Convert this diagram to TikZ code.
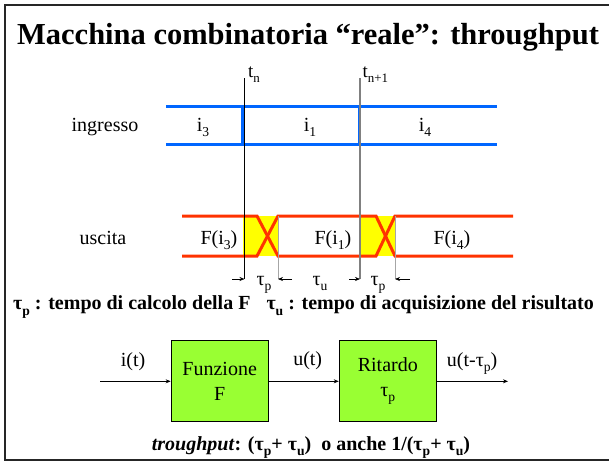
\documentclass[tikz,border=0pt]{standalone}
\usepackage{fontspec}
\usepackage{graphicx}
\setmainfont{Liberation Serif}
\usetikzlibrary{arrows.meta}
\definecolor{sigblue}{RGB}{0,102,255}
\definecolor{sigred}{RGB}{255,51,0}
\definecolor{sigyellow}{RGB}{255,255,0}
\definecolor{boxgreen}{RGB}{153,255,51}
\newcommand{\sbx}[1]{\raisebox{-0.28em}{\scalebox{0.68}{#1}}}
\begin{document}
\begin{tikzpicture}[x=1pt,y=-1pt,
  txt/.style={font=\fontsize{20}{24}\selectfont, inner sep=0pt, anchor=base},
  tlab/.style={font=\fontsize{19}{22}\selectfont, inner sep=0pt, anchor=base west},
  blueline/.style={draw=sigblue, line width=3pt},
  redline/.style={draw=sigred, line width=3pt},
  guide/.style={draw=gray!70, line width=0.5pt},
  dimarr/.style={-{Stealth[length=5pt,width=4pt]}, line width=0.6pt},
  arr/.style={-{Stealth[length=5pt,width=4pt]}, line width=0.7pt},
  blk/.style={draw=black, line width=0.8pt, fill=boxgreen, minimum width=97.3pt, minimum height=81pt, inner sep=0pt, align=center, font=\fontsize{20}{25}\selectfont},
  boldtxt/.style={font=\fontsize{20}{24}\selectfont\bfseries, inner sep=0pt}
]
\useasboundingbox (0,0) rectangle (609,461);
% frame
\draw[line width=2pt, black!85] (609,5) -- (4.5,5) -- (4.5,460) -- (609,460);
% title
\node[font=\fontsize{30.5}{36}\selectfont\bfseries, inner sep=0pt, anchor=base] (title) at (308,44) {Macchina combinatoria “reale”: throughput};

% input signal
\path[blueline] (166,106.5) -- (497,106.5);
\path[blueline] (166,144) -- (497,144);
\path[blueline] (242.5,106.5) -- (242.5,144);
\path[blueline] (359.5,106.5) -- (359.5,144);
\node[txt] (ing) at (105,131) {ingresso};
\node[txt] (i3) at (203,131) {i\sbx{3}};
\node[txt] (i1) at (310,131) {i\sbx{1}};
\node[txt] (i4) at (425,131) {i\sbx{4}};

% output signal
\fill[sigyellow] (243,216) rectangle (278,256);
\fill[sigyellow] (360.5,216) rectangle (395,256);
\path[redline] (182,216) -- (257,216) -- (278,256) -- (376,256) -- (395,216) -- (513,216);
\path[redline] (182,256) -- (257,256) -- (278,216) -- (376,216) -- (395,256) -- (513,256);
\node[txt] (usc) at (103,244) {uscita};
\node[txt] (f3) at (219,244) {F(i\sbx{3})};
\node[txt] (f1) at (333,244) {F(i\sbx{1})};
\node[txt] (f4) at (452,244) {F(i\sbx{4})};

% time markers
\coordinate (tnTop) at (244.5,78);
\coordinate (tnBot) at (244.5,279);
\coordinate (tmTop) at (360,78);
\coordinate (tmBot) at (360,279);
\coordinate (e1Top) at (278,216);
\coordinate (e1Bot) at (278,279);
\coordinate (e2Top) at (395,216);
\coordinate (e2Bot) at (395,279);
\draw[black, line width=1pt] (tnTop) -- (tnBot);
\draw[gray, line width=1.4pt] (tmTop) -- (tmBot);
\draw[guide] (e1Top) -- (e1Bot);
\draw[guide] (e2Top) -- (e2Bot);
\node[tlab] (tn) at (248,77) {t\sbx{n}};
\node[tlab] (tn1) at (362.5,77) {t\sbx{n+1}};

% dimension arrows
\coordinate (a1) at (232,279);
\coordinate (a2) at (292,279);
\coordinate (a3) at (349,279);
\coordinate (a4) at (410,279);
\draw[dimarr] (a1) -- (tnBot);
\draw[dimarr] (a2) -- (e1Bot);
\draw[dimarr] (a3) -- (tmBot);
\draw[dimarr] (a4) -- (e2Bot);
\node[txt] (tp1) at (264,285) {τ\sbx{p}};
\node[txt] (tu) at (320,285) {τ\sbx{u}};
\node[txt] (tp2) at (378,285) {τ\sbx{p}};

% legend
\node[boldtxt, anchor=base west] (legend) at (13,309.5) {τ\sbx{p} : tempo di calcolo della F\hspace{0.8em}τ\sbx{u} : tempo di acquisizione del risultato};

% block diagram
\node[blk] (fun) at (219.7,381) {Funzione\\F};
\node[blk] (rit) at (387.8,381) {Ritardo\\τ\sbx{p}};
\coordinate (in) at (100,381.3);
\coordinate (out) at (508,381.3);
\draw[arr] (in) -- (fun.west |- in);
\draw[arr] (fun.east |- in) -- (rit.west |- in);
\draw[arr] (rit.east |- out) -- (out);
\node[txt] (it) at (133,366) {i(t)};
\node[txt] (ut) at (307.7,365) {u(t)};
\node[txt, anchor=base west] (utd) at (446.7,366) {u(t-τ\sbx{p})};

% throughput
\node[boldtxt, anchor=base] (thr) at (311,450) {\textit{troughput}: (τ\sbx{p}+ τ\sbx{u})\ \ o anche 1/(τ\sbx{p}+ τ\sbx{u})};
\end{tikzpicture}
\end{document}
